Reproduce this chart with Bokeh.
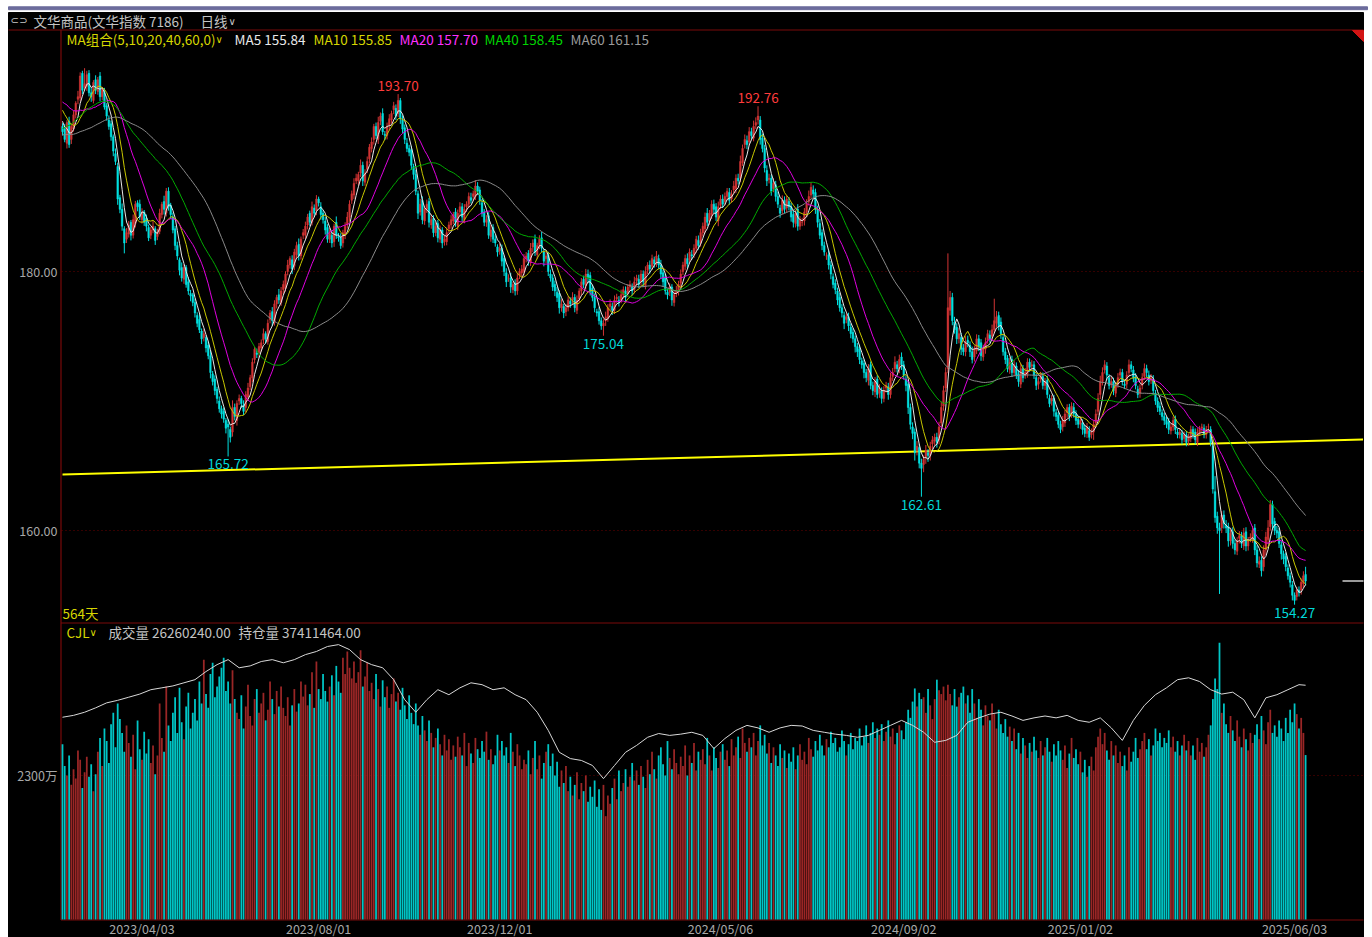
import numpy as np
from bokeh.plotting import figure
from bokeh.models import Range1d, ColumnDataSource
from bokeh.core.properties import value
from bokeh.embed import file_html
from bokeh.resources import INLINE

# ---------------- DATA (prices in tenths, wicks in hundredths) ----------------
pre_close_t = [
    1895, 1902, 1898, 1905, 1910, 1906, 1900, 1895, 1902, 1908,
    1912, 1906, 1900, 1895, 1890, 1885, 1892, 1888, 1880, 1876,
    1870, 1865, 1872, 1878, 1868, 1862, 1870, 1876, 1882, 1878,
    1885, 1890, 1886, 1895, 1902, 1898, 1905, 1912, 1918, 1924,
    1930, 1926, 1935, 1940, 1936, 1942, 1938, 1932, 1940, 1945,
    1938, 1935, 1942, 1930, 1926, 1932, 1925, 1920, 1915, 1912]

close_t = [
    1908, 1902, 1915, 1898, 1912, 1921, 1930, 1935, 1951, 1940,
    1945, 1952, 1938, 1935, 1946, 1940, 1948, 1935, 1941, 1927,
    1920, 1912, 1904, 1893, 1885, 1856, 1848, 1835, 1822, 1830,
    1836, 1828, 1840, 1852, 1850, 1842, 1846, 1838, 1835, 1826,
    1832, 1835, 1824, 1830, 1845, 1852, 1848, 1862, 1850, 1844,
    1832, 1820, 1812, 1801, 1795, 1803, 1790, 1785, 1781, 1776,
    1768, 1760, 1755, 1748, 1752, 1741, 1735, 1722, 1715, 1708,
    1702, 1694, 1690, 1686, 1679, 1680, 1672, 1695, 1688, 1698,
    1702, 1698, 1692, 1705, 1710, 1718, 1730, 1740, 1736, 1742,
    1745, 1752, 1748, 1760, 1768, 1762, 1775, 1780, 1778, 1785,
    1790, 1798, 1805, 1810, 1802, 1815, 1820, 1812, 1825, 1830,
    1835, 1842, 1838, 1850, 1845, 1856, 1853, 1844, 1840, 1832,
    1825, 1830, 1822, 1835, 1828, 1826, 1820, 1830, 1835, 1842,
    1852, 1860, 1868, 1872, 1875, 1882, 1870, 1876, 1885, 1896,
    1900, 1912, 1905, 1915, 1920, 1908, 1905, 1912, 1918, 1922,
    1928, 1920, 1932, 1918, 1910, 1902, 1895, 1892, 1882, 1875,
    1862, 1845, 1852, 1840, 1848, 1852, 1838, 1840, 1830, 1835,
    1826, 1832, 1822, 1825, 1830, 1836, 1840, 1844, 1838, 1845,
    1850, 1842, 1848, 1852, 1858, 1855, 1860, 1866, 1862, 1855,
    1845, 1838, 1840, 1828, 1832, 1825, 1822, 1815, 1818, 1808,
    1800, 1792, 1795, 1788, 1790, 1785, 1795, 1800, 1802, 1810,
    1812, 1808, 1818, 1822, 1815, 1820, 1825, 1818, 1808, 1812,
    1800, 1795, 1788, 1785, 1780, 1772, 1775, 1768, 1772, 1778,
    1775, 1780, 1772, 1778, 1785, 1792, 1790, 1798, 1795, 1785,
    1780, 1772, 1768, 1762, 1758, 1760, 1765, 1772, 1775, 1770,
    1778, 1780, 1776, 1782, 1786, 1780, 1788, 1790, 1785, 1792,
    1795, 1790, 1798, 1792, 1800, 1805, 1802, 1810, 1806, 1812,
    1805, 1798, 1792, 1785, 1782, 1788, 1778, 1782, 1785, 1790,
    1798, 1805, 1810, 1806, 1815, 1812, 1818, 1825, 1820, 1830,
    1835, 1842, 1838, 1845, 1852, 1848, 1842, 1850, 1856, 1852,
    1858, 1862, 1855, 1860, 1866, 1872, 1870, 1885, 1895, 1902,
    1898, 1908, 1905, 1912, 1915, 1920, 1902, 1895, 1880, 1870,
    1872, 1862, 1868, 1858, 1852, 1845, 1855, 1848, 1856, 1850,
    1842, 1838, 1845, 1835, 1840, 1838, 1846, 1852, 1858, 1865,
    1860, 1848, 1838, 1828, 1820, 1815, 1812, 1805, 1798, 1790,
    1786, 1778, 1772, 1768, 1760, 1765, 1758, 1752, 1748, 1742,
    1738, 1732, 1728, 1722, 1718, 1725, 1712, 1708, 1715, 1705,
    1710, 1702, 1708, 1712, 1705, 1718, 1722, 1730, 1725, 1732,
    1728, 1720, 1712, 1695, 1682, 1675, 1660, 1665, 1652, 1648,
    1655, 1662, 1658, 1665, 1670, 1672, 1668, 1680, 1695, 1708,
    1722, 1772, 1780, 1762, 1755, 1748, 1752, 1740, 1738, 1746,
    1745, 1738, 1732, 1740, 1748, 1742, 1735, 1740, 1745, 1752,
    1748, 1755, 1762, 1765, 1758, 1752, 1738, 1732, 1725, 1730,
    1722, 1728, 1720, 1715, 1725, 1718, 1722, 1730, 1726, 1728,
    1720, 1712, 1715, 1720, 1712, 1715, 1705, 1698, 1702, 1692,
    1688, 1682, 1678, 1685, 1690, 1695, 1688, 1696, 1690, 1685,
    1682, 1685, 1678, 1675, 1680, 1672, 1676, 1682, 1690, 1702,
    1715, 1722, 1728, 1720, 1712, 1715, 1708, 1712, 1718, 1722,
    1715, 1712, 1720, 1728, 1725, 1718, 1712, 1705, 1710, 1718,
    1725, 1722, 1715, 1718, 1708, 1700, 1695, 1692, 1688, 1685,
    1682, 1678, 1680, 1685, 1678, 1674, 1676, 1670, 1674, 1668,
    1672, 1678, 1674, 1670, 1676, 1678, 1680, 1674, 1678, 1680,
    1668, 1632, 1610, 1602, 1600, 1612, 1605, 1602, 1592, 1598,
    1590, 1585, 1592, 1596, 1590, 1598, 1588, 1592, 1595, 1600,
    1585, 1575, 1576, 1569, 1585, 1595, 1602, 1620, 1605, 1600,
    1598, 1590, 1582, 1578, 1572, 1565, 1560, 1550, 1546, 1554,
    1552, 1560, 1565, 1561]

open_gap_t = [
    0, 2, -3, 1, 4, -2, 0, 3, -1, 2,
    2, -2, 1, 0, -3, 2, -1, 3, 0, -2,
    1, -3, 2, 0, -2, -4, 1, 0, -2, 3,
    -1, 2, 0, -3, 1, 2, -2, 0, 3, -1,
    2, 0, -2, 3, 1, -1, 2, -3, 0, 1,
    -2, 1, 0, -3, 2, -1, 0, 2, -2, 1,
    0, -2, 3, -1, 1, -3, 2, 0, -1, 2,
    1, -2, 0, 2, -1, 3, -2, 4, 0, -3,
    2, 0, -1, 3, -2, 1, 0, 2, -3, 1,
    -1, 2, 0, -2, 3, 1, -1, 0, 2, -2,
    1, -3, 2, 0, -1, 2, -2, 1, 0, 3,
    -2, 1, 3, 0, -1, 2, 0, -3, 1, -1,
    2, 0, -2, 1, 3, -1, 0, 2, -2, 1,
    0, 3, -1, 2, -2, 1, 0, -1, 3, 2,
    -1, 2, 0, -3, 1, 2, -2, 0, 1, -1,
    3, -2, 2, 0, -1, 1, -3, 0, 2, -1,
    0, -2, 1, 3, -1, 0, 2, -2, 1, 0,
    2, -1, 0, 1, -2, 3, 0, -1, 2, -3,
    1, 0, -2, 2, 0, -1, 3, -2, 0, 1,
    -2, 1, 0, 3, -1, 2, 0, -3, 1, 0,
    2, -1, 3, 0, -2, 1, 0, 2, -1, -2,
    0, 2, -1, 1, 3, -2, 0, 1, -3, 2,
    1, -2, 0, 2, -1, 3, 0, -2, 1, 0,
    -1, 3, 0, -2, 1, 0, 2, -1, 0, 2,
    2, 0, -3, 1, 0, 0, 2, -1, 1, -2,
    0, 1, -2, 2, 0, -1, 3, 0, -2, 1,
    1, -1, 2, 0, -3, 1, 0, 2, -1, 0,
    -2, 0, 1, 3, -1, 2, 0, -2, 1, 0,
    1, 2, -1, 0, 3, -2, 1, 0, -1, 2,
    0, -2, 3, 1, -1, 0, 2, -3, 1, 0,
    2, 0, -1, 1, 3, -2, 0, 2, -1, 3,
    -1, 2, 0, -2, 1, 2, -3, 1, 0, -2,
    1, 0, 2, -1, 0, -3, 2, 0, 1, -2,
    0, 2, -1, 3, 0, -2, 1, 0, 2, 1,
    -2, 1, 0, -1, 2, 0, -3, 1, 0, -2,
    1, -1, 2, 0, -2, 3, 0, -1, 1, 0,
    0, 2, -1, 1, 0, -2, 3, 0, -1, 2,
    1, -2, 0, 2, -1, 0, 1, 3, -2, 0,
    2, 0, -3, 1, 0, -2, 1, 2, -1, 0,
    3, 1, -2, 0, 2, -1, 0, 2, 3, 1,
    2, 3, -2, 0, -1, 2, 0, -3, 1, 0,
    1, -2, 0, 2, -1, 0, 3, -1, 0, 2,
    -1, 2, 0, -2, 1, 3, -3, 0, 1, -1,
    2, 0, -1, 1, -2, 0, 2, -1, 0, 1,
    0, -2, 1, 2, -1, 0, 1, -3, 2, 0,
    -1, 1, 0, 2, -2, 1, 0, 2, -1, 0,
    1, 0, -2, 1, 0, -3, 2, 0, 1, 2,
    3, 0, 2, -1, -2, 1, 0, -2, 1, 2,
    0, -2, 1, 2, 0, -1, 0, -3, 1, 2,
    1, 0, -2, 1, -1, -2, 0, 1, -1, 0,
    0, 2, -1, 0, 1, -2, 0, -1, 1, 0,
    1, -1, 0, 2, -2, 0, 1, -1, 0, 2,
    -2, -3, -2, 1, 0, 2, 0, -1, 1, 0,
    1, 0, -1, 2, 0, -2, 1, 0, 2, -1,
    2, 0, -1, 1, 3, 0, -2, 1, 0, 2,
    0, 1, -1, 0, 2, -1, 0, -2, 0, 3,
    0, 2, -1, 1]

upper_wick_h = [
    25, 40, 18, 35, 22, 30, 15, 45, 28, 20,
    120, 30, 25, 40, 18, 35, 22, 30, 15, 28,
    20, 35, 25, 18, 40, 30, 22, 45, 20, 35,
    30, 18, 40, 25, 20, 35, 28, 15, 30, 22,
    25, 40, 20, 30, 35, 18, 45, 25, 30, 20,
    35, 22, 30, 18, 40, 25, 20, 35, 28, 15,
    30, 25, 40, 20, 35, 18, 30, 45, 22, 28,
    20, 35, 25, 30, 18, 40, 22, 55, 30, 25,
    30, 20, 35, 25, 40, 22, 30, 18, 35, 28,
    25, 40, 18, 30, 22, 35, 28, 20, 45, 30,
    30, 22, 40, 18, 35, 25, 30, 45, 20, 28,
    35, 25, 20, 40, 28, 30, 18, 35, 22, 30,
    25, 38, 30, 20, 45, 28, 35, 22, 30, 40,
    30, 25, 40, 35, 20, 45, 28, 30, 38, 25,
    35, 20, 30, 45, 28, 40, 25, 30, 35, 22,
    30, 30, 50, 20, 35, 25, 40, 28, 30, 22,
    35, 25, 40, 30, 22, 35, 28, 40, 25, 30,
    28, 35, 22, 30, 40, 25, 35, 20, 30, 28,
    35, 28, 40, 22, 30, 38, 25, 45, 30, 25,
    30, 22, 35, 28, 40, 25, 30, 20, 35, 28,
    25, 35, 28, 40, 22, 30, 38, 25, 30, 35,
    30, 25, 40, 28, 35, 22, 30, 45, 25, 30,
    22, 35, 28, 30, 40, 25, 35, 20, 30, 28,
    30, 40, 25, 35, 22, 30, 28, 40, 35, 25,
    28, 30, 22, 35, 25, 30, 40, 28, 35, 30,
    35, 28, 30, 40, 25, 35, 22, 30, 28, 40,
    25, 35, 30, 28, 40, 22, 35, 30, 25, 38,
    30, 40, 25, 35, 28, 30, 22, 35, 40, 28,
    35, 25, 30, 40, 28, 35, 30, 25, 38, 30,
    28, 35, 40, 25, 30, 35, 28, 40, 30, 35,
    30, 25, 35, 28, 40, 30, 35, 45, 30, 38,
    40, 35, 30, 45, 40, 76, 30, 35, 28, 40,
    35, 28, 40, 30, 35, 25, 38, 30, 28, 35,
    30, 35, 25, 40, 28, 35, 30, 38, 45, 40,
    35, 30, 28, 35, 25, 30, 28, 35, 30, 25,
    30, 25, 35, 28, 30, 25, 32, 28, 30, 25,
    28, 35, 25, 30, 28, 35, 25, 30, 35, 28,
    30, 25, 35, 28, 30, 40, 35, 45, 30, 38,
    35, 30, 28, 25, 30, 35, 28, 40, 30, 35,
    30, 40, 28, 35, 30, 28, 35, 40, 45, 38,
    40, 420, 50, 35, 40, 30, 45, 35, 30, 40,
    35, 30, 40, 28, 35, 30, 28, 35, 40, 30,
    35, 40, 170, 45, 30, 35, 28, 30, 25, 35,
    30, 35, 28, 30, 40, 28, 35, 30, 28, 35,
    28, 30, 35, 25, 30, 28, 35, 30, 25, 28,
    30, 25, 28, 35, 30, 25, 28, 30, 35, 28,
    25, 30, 28, 25, 30, 35, 28, 30, 35, 40,
    45, 40, 35, 30, 28, 35, 30, 28, 35, 30,
    28, 35, 30, 40, 28, 30, 35, 28, 30, 35,
    40, 30, 35, 28, 30, 25, 28, 30, 25, 28,
    30, 28, 25, 30, 28, 25, 30, 28, 25, 30,
    28, 30, 25, 28, 30, 28, 25, 30, 28, 25,
    25, 30, 120, 35, 40, 30, 35, 40, 30, 28,
    35, 30, 28, 35, 30, 40, 35, 30, 28, 35,
    30, 35, 40, 30, 35, 40, 60, 35, 30, 28,
    35, 30, 28, 25, 30, 28, 25, 30, 22, 25,
    28, 30, 35, 60]

lower_wick_h = [
    30, 22, 40, 25, 35, 20, 28, 38, 25, 30,
    25, 35, 28, 40, 22, 30, 25, 35, 28, 20,
    35, 25, 30, 40, 28, 45, 30, 35, 80, 30,
    28, 40, 25, 30, 35, 22, 30, 28, 40, 25,
    30, 25, 35, 28, 22, 30, 40, 25, 30, 35,
    25, 35, 30, 40, 28, 35, 25, 30, 40, 28,
    35, 30, 25, 40, 30, 35, 28, 45, 30, 35,
    40, 30, 35, 28, 40, 228, 40, 35, 30, 40,
    30, 35, 28, 40, 30, 25, 35, 30, 28, 35,
    28, 30, 35, 25, 30, 40, 28, 35, 30, 25,
    35, 25, 30, 28, 40, 30, 25, 35, 28, 30,
    30, 35, 28, 25, 30, 35, 28, 40, 30, 35,
    28, 30, 35, 40, 28, 30, 25, 35, 30, 28,
    35, 28, 30, 25, 35, 30, 40, 28, 30, 35,
    30, 40, 28, 35, 30, 25, 35, 30, 40, 28,
    35, 30, 28, 40, 30, 35, 28, 30, 35, 40,
    30, 45, 28, 35, 30, 28, 40, 30, 35, 28,
    35, 28, 40, 30, 28, 35, 30, 25, 35, 30,
    30, 35, 28, 40, 30, 25, 35, 28, 30, 35,
    28, 30, 35, 28, 40, 30, 28, 35, 30, 40,
    35, 40, 30, 45, 28, 35, 30, 28, 35, 30,
    30, 35, 28, 40, 30, 35, 28, 30, 40, 35,
    35, 28, 30, 40, 35, 45, 30, 40, 35, 28,
    30, 40, 35, 28, 30, 35, 28, 30, 40, 35,
    30, 35, 28, 30, 30, 76, 40, 28, 30, 35,
    28, 35, 30, 25, 30, 35, 28, 30, 35, 28,
    35, 28, 30, 40, 28, 30, 35, 28, 30, 25,
    30, 35, 40, 28, 35, 30, 45, 30, 28, 35,
    35, 28, 30, 35, 28, 30, 25, 35, 30, 28,
    30, 35, 28, 30, 35, 28, 30, 40, 28, 30,
    28, 30, 35, 28, 30, 35, 28, 30, 25, 30,
    35, 28, 30, 25, 30, 35, 40, 30, 35, 40,
    30, 35, 28, 40, 30, 35, 28, 30, 35, 28,
    35, 40, 30, 35, 28, 30, 35, 40, 30, 28,
    30, 35, 40, 30, 35, 28, 30, 35, 40, 30,
    35, 40, 30, 35, 45, 30, 40, 35, 30, 45,
    40, 35, 30, 45, 35, 40, 30, 35, 40, 30,
    35, 40, 30, 35, 40, 30, 35, 28, 30, 35,
    40, 35, 45, 50, 40, 45, 60, 40, 40, 219,
    60, 45, 50, 40, 45, 35, 40, 35, 30, 35,
    30, 35, 40, 35, 30, 40, 35, 45, 30, 35,
    35, 40, 30, 35, 28, 35, 40, 30, 35, 28,
    30, 35, 28, 30, 35, 40, 30, 35, 28, 30,
    35, 28, 30, 40, 30, 35, 28, 30, 35, 30,
    30, 35, 40, 28, 30, 35, 30, 28, 35, 40,
    35, 30, 28, 35, 30, 40, 35, 30, 28, 35,
    30, 35, 40, 30, 35, 28, 30, 60, 35, 30,
    35, 30, 28, 35, 30, 28, 35, 30, 28, 30,
    30, 28, 35, 30, 28, 35, 30, 28, 35, 30,
    28, 35, 30, 28, 35, 30, 35, 28, 30, 35,
    30, 35, 28, 30, 35, 28, 30, 35, 28, 30,
    35, 28, 30, 35, 28, 30, 35, 28, 30, 35,
    30, 35, 40, 45, 490, 40, 35, 40, 45, 35,
    40, 35, 30, 40, 35, 30, 40, 35, 30, 35,
    40, 35, 30, 45, 35, 40, 35, 30, 40, 35,
    40, 35, 45, 40, 35, 30, 40, 40, 33, 30,
    30, 35, 30, 35]

# daily volume, units of 10万 (100,000) contracts
volume_100k = [
    280, 245, 230, 262, 215, 240, 225, 270, 255, 210,
    235, 260, 228, 248, 205, 232, 268, 290, 245, 305,
    285, 250, 312, 330, 275, 345, 320, 298, 268, 310,
    282, 260, 295, 240, 318, 272, 255, 300, 265, 288,
    250, 278, 232, 262, 345, 290, 268, 372, 310, 285,
    330, 355, 298, 370, 315, 288, 340, 362, 305, 330,
    352, 318, 380, 345, 415, 360, 338, 392, 410, 355,
    372, 388, 402, 418, 365, 380, 345, 398, 352, 330,
    320, 358, 305, 340, 375, 325, 310, 352, 368, 330,
    345, 362, 318, 335, 380, 352, 328, 365, 340, 372,
    338, 325, 355, 310, 342, 368, 332, 345, 380, 356,
    375, 342, 360, 395, 338, 412, 368, 352, 392, 365,
    348, 372, 390, 358, 405, 380, 362, 418, 392, 428,
    402, 385, 412, 378, 395, 430, 372, 388, 410, 365,
    378, 352, 392, 368, 340, 382, 355, 372, 338, 360,
    385, 348, 362, 335, 370, 342, 320, 358, 330, 312,
    345, 310, 295, 325, 302, 285, 318, 298, 275, 290,
    305, 280, 262, 295, 270, 288, 255, 278, 260, 292,
    275, 262, 298, 245, 282, 265, 250, 290, 272, 258,
    285, 268, 300, 255, 272, 248, 262, 295, 270, 285,
    262, 275, 250, 298, 268, 245, 280, 262, 240, 255,
    248, 270, 232, 258, 285, 240, 262, 225, 250, 268,
    280, 245, 265, 230, 252, 212, 238, 218, 245, 205,
    228, 198, 215, 235, 192, 218, 205, 230, 188, 212,
    196, 222, 180, 208, 175, 215, 165, 198, 185, 210,
    225, 192, 238, 205, 218, 240, 212, 228, 250, 222,
    238, 215, 245, 228, 210, 255, 232, 268, 240, 225,
    262, 275, 248, 230, 285, 258, 240, 272, 250, 232,
    260, 245, 278, 230, 262, 250, 282, 238, 268, 255,
    272, 248, 290, 262, 238, 275, 258, 242, 268, 280,
    255, 270, 245, 288, 262, 275, 292, 258, 305, 282,
    268, 290, 275, 298, 262, 285, 310, 278, 295, 265,
    282, 250, 275, 262, 245, 280, 258, 270, 242, 265,
    252, 275, 240, 262, 280, 255, 268, 248, 290, 272,
    260, 285, 270, 295, 278, 262, 288, 275, 300, 282,
    290, 268, 275, 302, 285, 262, 280, 298, 272, 290,
    285, 305, 278, 292, 310, 282, 298, 315, 290, 305,
    295, 312, 285, 300, 318, 292, 305, 280, 298, 310,
    302, 288, 315, 335, 322, 348, 369, 340, 362, 352,
    355, 330, 368, 342, 320, 352, 383, 366, 360, 372,
    350, 375, 360, 342, 368, 340, 355, 362, 372, 345,
    358, 330, 368, 345, 322, 352, 335, 310, 342, 325,
    318, 345, 328, 305, 335, 312, 298, 320, 292, 308,
    285, 305, 272, 298, 265, 290, 278, 258, 282, 268,
    292, 270, 258, 285, 262, 275, 290, 268, 252, 280,
    262, 285, 270, 255, 278, 242, 265, 290, 258, 272,
    248, 268, 235, 255, 228, 245, 260, 238, 275, 292,
    305, 280, 298, 270, 255, 285, 262, 278, 250, 268,
    245, 262, 238, 275, 252, 268, 290, 258, 272, 285,
    298, 272, 288, 262, 278, 305, 285, 298, 275, 290,
    282, 302, 275, 292, 268, 285, 262, 278, 295, 270,
    285, 262, 278, 255, 290, 268, 282, 260, 275, 295,
    310, 352, 385, 368, 442, 330, 345, 312, 298, 325,
    302, 285, 318, 292, 275, 305, 288, 270, 298, 282,
    295, 312, 288, 325, 302, 280, 315, 335, 298, 310,
    292, 318, 305, 285, 322, 298, 335, 315, 345, 328,
    305, 322, 298, 262.6]

# open interest (万 contracts), sampled every 5th day plus the last day
open_interest_wan = [
    3230, 3260, 3310, 3380, 3460, 3500, 3550, 3600, 3670, 3700,
    3730, 3780, 3830, 3960, 4070, 4150, 4020, 4050, 4120, 4150,
    4100, 4150, 4230, 4280, 4360, 4390, 4310, 4150, 4070, 4020,
    3830, 3510, 3310, 3510, 3670, 3590, 3700, 3780, 3750, 3670,
    3700, 3590, 3510, 3310, 3020, 2670, 2570, 2540, 2460, 2250,
    2460, 2670, 2780, 2910, 2970, 2940, 2960, 2990, 2940, 2730,
    2890, 3020, 3100, 3060, 2990, 3060, 3100, 3090, 3020, 2990,
    2960, 2940, 2910, 2940, 3020, 3100, 3180, 3100, 2990, 2830,
    2860, 2940, 3150, 3220, 3280, 3310, 3250, 3180, 3220, 3250,
    3220, 3260, 3180, 3150, 3220, 3060, 2860, 3180, 3420, 3590,
    3700, 3830, 3860, 3800, 3670, 3600, 3630, 3510, 3220, 3540,
    3590, 3670, 3750, 3741]

last_volume = 26260240
last_open_interest = 37411464
ma_periods = [5, 10, 20, 40, 60]
price_ticks = [160, 180]
volume_ticks_wan = [2300]
date_tick_days = [36, 116, 198, 298, 381, 461, 558]
date_tick_labels = ["2023/04/03", "2023/08/01", "2023/12/01", "2024/05/06",
                    "2024/09/02", "2025/01/02", "2025/06/03"]
marked_high_days = [152, 315]
marked_low_days = [75, 245, 389, 558]
support_line_days = [0, 589]
support_line_price = [164.32, 167.03]

n = len(close_t)
assert len(open_gap_t) == n and len(upper_wick_h) == n and len(lower_wick_h) == n
assert len(volume_100k) == n
oi_days = list(range(0, n, 5)) + [n - 1]
assert len(oi_days) == len(open_interest_wan)

# ---------------- derived series ----------------
close = np.array(close_t, dtype=float) / 10.0
prev_close = np.array([pre_close_t[-1]] + close_t[:-1], dtype=float)
open_ = (prev_close + np.array(open_gap_t)) / 10.0
body_top = np.maximum(open_, close)
body_bot = np.minimum(open_, close)
high = body_top + np.array(upper_wick_h) / 100.0
low = body_bot - np.array(lower_wick_h) / 100.0
all_close = np.array(pre_close_t + close_t, dtype=float) / 10.0


def moving_average(k):
    return np.convolve(all_close, np.ones(k) / k, mode="valid")[-n:]


mas = [moving_average(k) for k in ma_periods]
days = np.arange(n)
rising = close >= open_

# ---------------- layout (page pixels -> data) ----------------
W, H = 1372, 937
BAR0_PX, BAR_PX = 62.0, 2.208
REF_PRICE, REF_PRICE_Y, PX_PER_PRICE = 180.0, 271.0, 12.95
VOL_ZERO_Y, WAN_PER_PX = 919.0, 15.97


def gx(xp):
    return (xp - BAR0_PX) / BAR_PX


def gy(yp):
    return REF_PRICE + (REF_PRICE_Y - yp) / PX_PER_PRICE


def gv(yp):
    return (VOL_ZERO_Y - yp) * WAN_PER_PX


def vol_to_price(v):
    return gy(VOL_ZERO_Y - v / WAN_PER_PX)


p = figure(width=W, height=H,
           x_range=Range1d(gx(0), gx(W)),
           y_range=Range1d(gy(H), gy(0)),
           x_axis_location=None, y_axis_location=None,
           output_backend="svg", toolbar_location=None, min_border=0,
           background_fill_color="#ffffff", border_fill_color="#ffffff",
           outline_line_color=None)
p.extra_y_ranges = {"vol": Range1d(gv(H), gv(0))}
p.xgrid.visible = False
p.ygrid.visible = False

RED_LINE = "#7a0a0a"
UP, DOWN = "#d23434", "#00e0e0"
VUP, VDOWN = "#9a2626", "#00c6c6"
MA_COLORS = ["#e8e8e8", "#c8c800", "#e000e0", "#00aa00", "#8a8a8a"]
LEG_COLORS = ["#e8e8e8", "#d6d600", "#ff30ff", "#00d400", "#9a9a9a"]
TXT = "#c4c4c4"
AX_TXT = "#a8a8a8"
CJK = "Noto Sans CJK SC"

# black chart window + lavender header line
p.quad(left=gx(8), right=gx(1363), top=gy(12), bottom=gy(H), color="#000000")
p.quad(left=gx(8), right=gx(1367), top=gy(6.3), bottom=gy(9.2), color="#6c6c9c")

# panel borders
p.segment(x0=gx(8), x1=gx(1363), y0=gy(29.5), y1=gy(29.5), line_color=RED_LINE, line_width=1.2)
p.segment(x0=gx(60.5), x1=gx(60.5), y0=gy(29.5), y1=gy(919.5), line_color=RED_LINE, line_width=1.2)
p.segment(x0=gx(60.5), x1=gx(1363), y0=gy(622.5), y1=gy(622.5), line_color=RED_LINE, line_width=1.2)
p.segment(x0=gx(60.5), x1=gx(1363), y0=gy(919.5), y1=gy(919.5), line_color=RED_LINE, line_width=1.2)
p.patch(x=[gx(1352), gx(1363), gx(1363)], y=[gy(30), gy(30), gy(41)], color="#d21414")

# grid lines
for t in price_ticks:
    p.segment(x0=gx(61), x1=gx(1363), y0=t, y1=t, line_color="#6a0000", line_dash="1 3", line_width=1)
for t in volume_ticks_wan:
    p.segment(x0=gx(61), x1=gx(1363), y0=t, y1=t, line_color="#6a0000", line_dash="1 3",
              line_width=1, y_range_name="vol")


def put(xp, yp, s, color, size=13.5, align="left", baseline="middle", font=CJK):
    p.text(x=[gx(xp)], y=[gy(yp)], text=[s], text_color=color, text_font_size=f"{size}px",
           text_align=align, text_baseline=baseline, text_font=value(font))


# axis labels
for t in price_ticks:
    p.text(x=[gx(57)], y=[t], text=[f"{t:.2f}"], text_color=AX_TXT, text_font_size="12.5px",
           text_align="right", text_baseline="middle", text_font=value(CJK))
for t in volume_ticks_wan:
    p.text(x=[gx(57)], y=[vol_to_price(t)], text=[f"{t}万"], text_color=AX_TXT,
           text_font_size="12.5px", text_align="right", text_baseline="middle", text_font=value(CJK))
p.text(x=date_tick_days, y=[gy(928)] * len(date_tick_days), text=date_tick_labels,
       text_color=AX_TXT, text_font_size="12.5px", text_align="center", text_baseline="middle",
       text_font=value(CJK))

# volume + open interest
vsrc = ColumnDataSource(dict(x=days, v=np.array(volume_100k) * 10.0,
                             c=np.where(rising, VUP, VDOWN)))
p.vbar(x="x", width=0.8, top="v", bottom=0, fill_color="c", line_color=None,
       source=vsrc, y_range_name="vol")
p.line(x=oi_days, y=open_interest_wan, line_color="#d8d8d8", line_width=1, y_range_name="vol")

# support line
p.line(x=support_line_days, y=support_line_price, line_color="#ffff00", line_width=2)

# candles
csrc = ColumnDataSource(dict(x=days, h=high, l=low, t=body_top, b=body_bot,
                             c=np.where(rising, UP, DOWN)))
p.segment(x0="x", x1="x", y0="l", y1="h", line_color="c", line_width=1, source=csrc)
p.vbar(x="x", width=0.72, top="t", bottom="b", fill_color="c", line_color="c",
       line_width=0.5, source=csrc)

# moving averages
for m, col in zip(mas, MA_COLORS):
    p.line(x=days, y=m, line_color=col, line_width=1)

# last price marker
p.segment(x0=gx(1342), x1=gx(1363), y0=close[-1], y1=close[-1], line_color="#9a9a9a", line_width=2)

# extreme labels
p.text(x=marked_high_days, y=[high[d] for d in marked_high_days],
       text=[f"{high[d]:.2f}" for d in marked_high_days], text_color="#ff3c3c",
       text_font_size="13.5px", text_align="center", text_baseline="bottom", y_offset=-3,
       text_font=value(CJK))
p.text(x=marked_low_days, y=[low[d] for d in marked_low_days],
       text=[f"{low[d]:.2f}" for d in marked_low_days], text_color="#00d8d8",
       text_font_size="13.5px", text_align="center", text_baseline="top", y_offset=3,
       text_font=value(CJK))

# title row
put(10, 20, "⊂⊃", "#c8c8c8", size=10, font="DejaVu Sans")
put(33, 20, "文华商品(文华指数 7186)", TXT)
put(200, 20, "日线", TXT)
put(228, 21, "∨", TXT, size=10, font="DejaVu Sans")

# MA legend
put(66, 38, "MA组合(" + ",".join(str(k) for k in ma_periods) + ",0)", "#d6d600")
put(215, 39, "∨", "#d6d600", size=10, font="DejaVu Sans")
leg_x = [234, 313, 399, 484, 570]
for k, m, col, xp in zip(ma_periods, mas, LEG_COLORS, leg_x):
    put(xp, 38, f"MA{k} {m[-1]:.2f}", col)

put(62, 612, f"{n}天", "#d6d600")

# volume header
put(66, 631, "CJL", "#d6d600")
put(89, 632, "∨", "#d6d600", size=10, font="DejaVu Sans")
put(108, 631, f"成交量 {last_volume:.2f}", TXT)
put(238, 631, f"持仓量 {last_open_interest:.2f}", TXT)

open("out.html", "w").write(file_html(p, INLINE))
